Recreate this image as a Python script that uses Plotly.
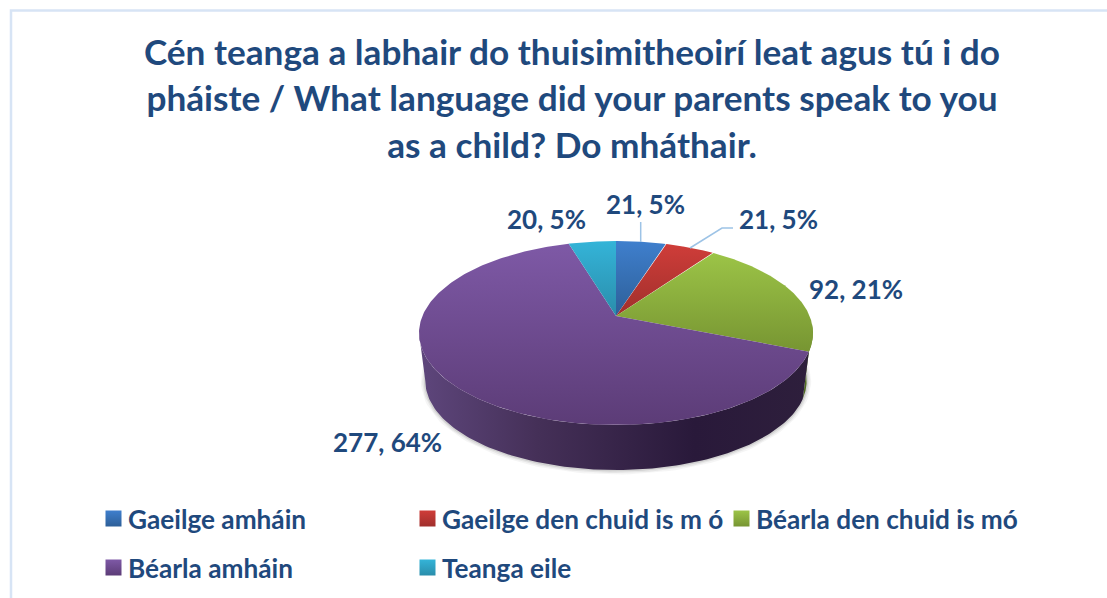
import math
import plotly.graph_objects as go

title_lines = [
    "Cén teanga a labhair do thuisimitheoirí leat agus tú i do",
    "pháiste / What language did your parents speak to you",
    "as a child? Do mháthair.",
]
categories = ["Gaeilge amháin", "Gaeilge den chuid is m ó", "Béarla den chuid is mó", "Béarla amháin", "Teanga eile"]
values = [21, 21, 92, 277, 20]
top_colors = ["#3f7fcd", "#cf3d39", "#9cc447", "#7e59a6", "#34b4d8"]
bottom_colors = ["#2d5f98", "#a02f2c", "#779532", "#5c3c77", "#2a8dab"]

INK = "#1f497d"
FONT = "Lato"
LABEL_SIZE = 26
LEGEND_SIZE = 26.2

# Perspective disc: screen geometry of the pie
CX, CY, W, K, C = 616.0, 316.0, 193.6, 88.86, 0.1848
DEPTH, SHRINK = 48.5, 0.968


def project(theta, scale=1.0, dy=0.0):
    u, v = math.sin(theta), -math.cos(theta)
    d = 1 - C * v
    return CX + scale * W * u / d, CY + dy + scale * K * v / d


def arc(t0, t1, n=120, scale=1.0, dy=0.0):
    pts = [project(t0 + (t1 - t0) * i / n, scale, dy) for i in range(n + 1)]
    return [p[0] for p in pts], [p[1] for p in pts]


total = sum(values)
bounds = [0.0]
for val in values:
    bounds.append(bounds[-1] + 2 * math.pi * val / total)

fig = go.Figure()

# Soft shadow under the pie
sx, sy = arc(math.pi * 0.45, math.pi * 1.55, scale=SHRINK, dy=DEPTH)
for width, alpha in [(9, 0.05), (6, 0.08), (3, 0.12)]:
    fig.add_trace(go.Scatter(x=sx, y=sy, mode="lines", line=dict(color=f"rgba(60,60,60,{alpha})", width=width),
                             hoverinfo="skip", showlegend=False))

# Side wall: silhouette from the right extreme round the front to the left extreme
t_left = 3 * math.pi / 2 - math.asin(C)
t_right = math.pi / 2 + math.asin(C)
walls = [
    (t_right - 0.1, bounds[3], ["#6b8a2c", "#4a6320"]),
    (bounds[3], t_left, None),
]
for t0, t1, cols in walls:
    x1, y1 = arc(t0, t1)
    x2, y2 = arc(t1, t0, scale=SHRINK, dy=DEPTH)
    if cols:
        grad = dict(type="horizontal", colorscale=[[0, cols[1]], [1, cols[0]]])
    else:
        grad = dict(type="horizontal", start=419, stop=813,
                    colorscale=[[0, "#5e467c"], [0.3, "#453058"], [0.7, "#29193a"], [1, "#2e1f3c"]])
    fig.add_trace(go.Scatter(x=x1 + x2, y=y1 + y2, mode="lines", fill="toself", line=dict(width=0),
                             fillgradient=grad, hoverinfo="skip", showlegend=False))

# Top face slices
for i, name in enumerate(categories):
    ax, ay = arc(bounds[i], bounds[i + 1], n=240)
    fig.add_trace(go.Scatter(
        x=[CX] + ax + [CX], y=[CY] + ay + [CY], mode="lines", fill="toself", line=dict(width=0), name=name,
        fillgradient=dict(type="vertical", start=min(ay + [CY]), stop=max(ay + [CY]),
                          colorscale=[[0, top_colors[i]], [1, bottom_colors[i]]]),
        hoverinfo="skip", showlegend=False))

# Leader lines
fig.add_trace(go.Scatter(x=[640.7, 640.7], y=[222, 242], mode="lines", line=dict(color="#9dc3e6", width=1.5),
                         hoverinfo="skip", showlegend=False))
fig.add_trace(go.Scatter(x=[733, 722, 690], y=[228, 228, 248], mode="lines", line=dict(color="#9dc3e6", width=1.5),
                         hoverinfo="skip", showlegend=False))

# Data labels
label_pos = [(645, 204), (778, 219), (856, 289), (387, 442), (546, 219)]
for val, (lx, ly) in zip(values, label_pos):
    fig.add_annotation(x=lx, y=ly, text=f"<b>{val}, {round(100 * val / total)}%</b>", showarrow=False,
                       font=dict(family=FONT, size=LABEL_SIZE, color=INK), xanchor="center", yanchor="middle")

# Legend
legend_pos = [(113.5, 518.5), (427.5, 518.5), (741.5, 518.5), (113.5, 567.5), (427.5, 567.5)]
for i, name in enumerate(categories):
    lx, ly = legend_pos[i]
    fig.add_trace(go.Scatter(x=[lx], y=[ly], mode="markers", hoverinfo="skip", showlegend=False,
                             marker=dict(symbol="square", size=16, color=top_colors[i], line=dict(width=0),
                                         gradient=dict(type="vertical", color=bottom_colors[i]))))
    fig.add_annotation(x=lx + 12.5, y=ly, text=f"<b>{name}</b>", showarrow=False, xanchor="left", yanchor="middle",
                       font=dict(family=FONT, size=LEGEND_SIZE, color=INK))

# Chart frame (top and left edges visible)
fig.add_shape(type="rect", x0=11, y0=10.5, x1=1130, y1=640, line=dict(color="#d7e4f5", width=2.5), layer="below")

fig.update_layout(
    width=1107, height=598, margin=dict(l=0, r=0, t=0, b=0),
    paper_bgcolor="white", plot_bgcolor="white", showlegend=False,
    title=dict(text="<br>".join(f'<b><span style="font-size:35.2px">{t}</span></b>' for t in title_lines),
               x=0.5167, xanchor="center", y=0.892, yanchor="middle",
               font=dict(family=FONT, size=36, color=INK)),
    xaxis=dict(range=[0, 1107], visible=False, fixedrange=True),
    yaxis=dict(range=[598, 0], visible=False, fixedrange=True),
)
fig.write_html("out.html", config=dict(displayModeBar=False),
               post_script="document.body.style.margin='0';")
